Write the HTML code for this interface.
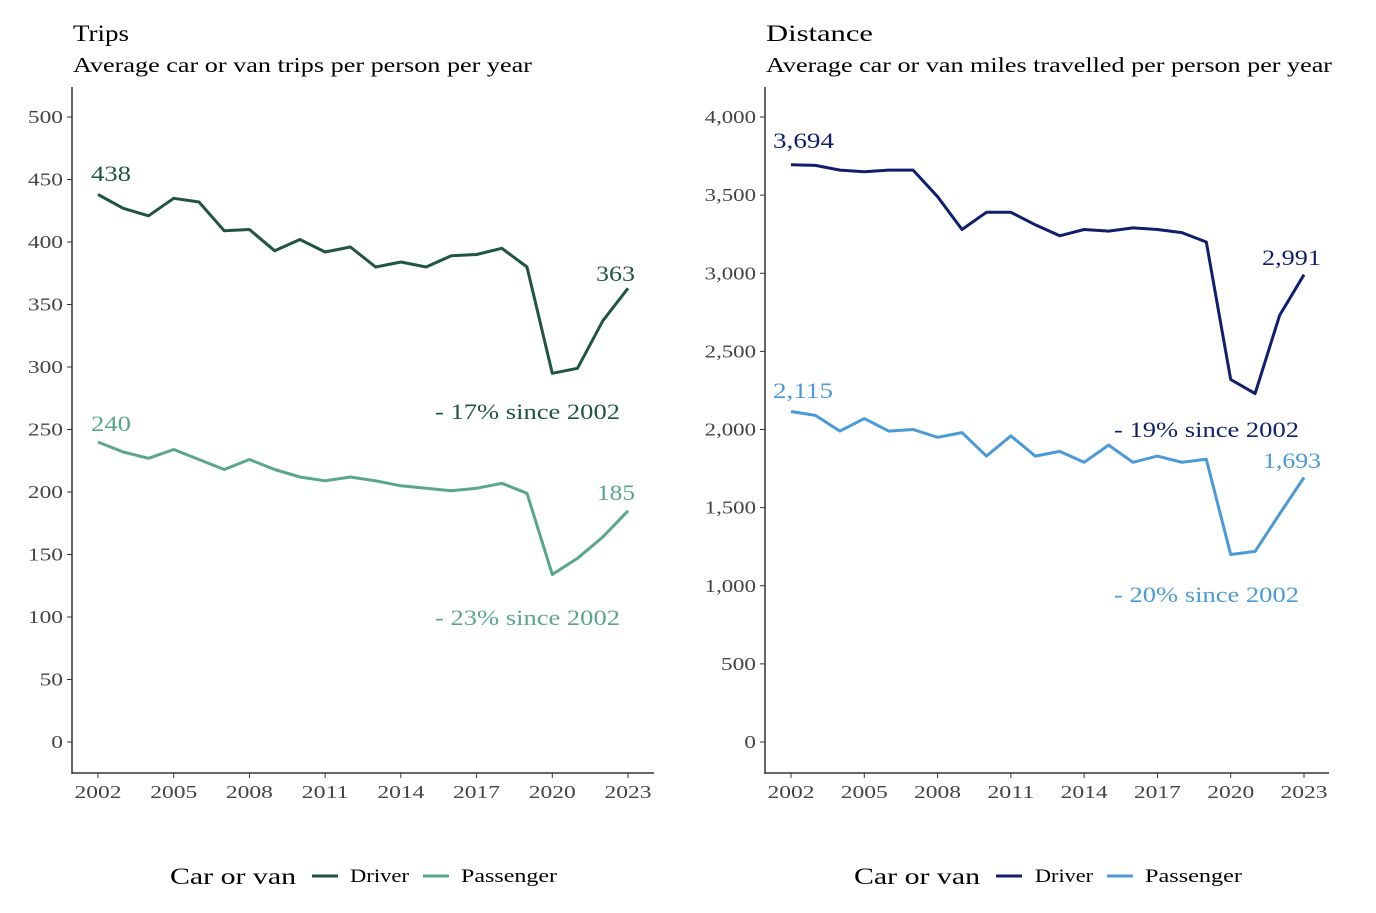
<!DOCTYPE html>
<html><head><meta charset="utf-8"><style>
body{margin:0;background:#fff;}
svg text{font-family:"Liberation Serif",serif;}
</style></head><body>
<svg id="s" width="1376" height="908" viewBox="0 0 1376 908" xmlns="http://www.w3.org/2000/svg">
<rect width="1376" height="908" fill="#fff"/>
<text x="73" y="41" font-size="23" fill="#000" textLength="56" lengthAdjust="spacingAndGlyphs">Trips</text>
<text x="73" y="72" font-size="21" fill="#000" textLength="459" lengthAdjust="spacingAndGlyphs">Average car or van trips per person per year</text>
<text x="766" y="41" font-size="23" fill="#000" textLength="107" lengthAdjust="spacingAndGlyphs">Distance</text>
<text x="766" y="72" font-size="21" fill="#000" textLength="566" lengthAdjust="spacingAndGlyphs">Average car or van miles travelled per person per year</text>
<g id="g"></g>
<text x="91" y="181" font-size="22" fill="#1f5541" textLength="40" lengthAdjust="spacingAndGlyphs">438</text>
<text x="596" y="281" font-size="22" fill="#1f5541" textLength="39" lengthAdjust="spacingAndGlyphs">363</text>
<text x="435" y="419" font-size="22" fill="#1f5541" textLength="185" lengthAdjust="spacingAndGlyphs">- 17% since 2002</text>
<text x="91" y="431" font-size="22" fill="#5aa68c" textLength="40" lengthAdjust="spacingAndGlyphs">240</text>
<text x="597" y="500" font-size="22" fill="#5aa68c" textLength="38" lengthAdjust="spacingAndGlyphs">185</text>
<text x="435" y="625" font-size="22" fill="#5aa68c" textLength="185" lengthAdjust="spacingAndGlyphs">- 23% since 2002</text>
<text x="773" y="148" font-size="22" fill="#101e6e" textLength="61" lengthAdjust="spacingAndGlyphs">3,694</text>
<text x="1262" y="265" font-size="22" fill="#101e6e" textLength="59" lengthAdjust="spacingAndGlyphs">2,991</text>
<text x="1114" y="437" font-size="22" fill="#101e6e" textLength="185" lengthAdjust="spacingAndGlyphs">- 19% since 2002</text>
<text x="773" y="398" font-size="22" fill="#4a9ad8" textLength="60" lengthAdjust="spacingAndGlyphs">2,115</text>
<text x="1263" y="468" font-size="22" fill="#4a9ad8" textLength="58" lengthAdjust="spacingAndGlyphs">1,693</text>
<text x="1114" y="602" font-size="22" fill="#4a9ad8" textLength="185" lengthAdjust="spacingAndGlyphs">- 20% since 2002</text>
<text x="170" y="884" font-size="23" fill="#000" textLength="126" lengthAdjust="spacingAndGlyphs">Car or van</text>
<line x1="312" y1="876" x2="338" y2="876" stroke="#1f5541" stroke-width="3"/>
<text x="350" y="882" font-size="19" fill="#000" textLength="59" lengthAdjust="spacingAndGlyphs">Driver</text>
<line x1="423" y1="876" x2="449" y2="876" stroke="#5aa68c" stroke-width="3"/>
<text x="461" y="882" font-size="19" fill="#000" textLength="96" lengthAdjust="spacingAndGlyphs">Passenger</text>
<text x="854" y="884" font-size="23" fill="#000" textLength="126" lengthAdjust="spacingAndGlyphs">Car or van</text>
<line x1="996" y1="876" x2="1022" y2="876" stroke="#101e6e" stroke-width="3"/>
<text x="1035" y="882" font-size="19" fill="#000" textLength="58" lengthAdjust="spacingAndGlyphs">Driver</text>
<line x1="1107" y1="876" x2="1133" y2="876" stroke="#4a9ad8" stroke-width="3"/>
<text x="1145" y="882" font-size="19" fill="#000" textLength="97" lengthAdjust="spacingAndGlyphs">Passenger</text>
</svg>
<script>
var g=document.getElementById('g'),NS="http://www.w3.org/2000/svg";
function el(t,a,txt){var e=document.createElementNS(NS,t);for(var k in a)e.setAttribute(k,a[k]);if(txt!=null)e.textContent=txt;g.appendChild(e);return e;}
function tl(s){var d=0,c=0;for(var i=0;i<s.length;i++){if(s[i]==',')c++;else d++;}return (d*11.7+c*4.5).toFixed(1);}
function chart(ax,x0,x1,step,max,fmt,series){
 var y0=742,sc=625/max;
 el('line',{x1:ax,y1:87,x2:ax,y2:774,stroke:'#333','stroke-width':1.5});
 el('line',{x1:ax,y1:773,x2:ax+(ax<400?582:564),y2:773,stroke:'#333','stroke-width':1.5});
 for(var v=0;v<=max;v+=step){var y=y0-v*sc;var s=String(fmt(v));
  el('line',{x1:ax-5,y1:y,x2:ax,y2:y,stroke:'#333'});
  el('text',{x:ax-9,y:y+6,'font-size':18,fill:'#444','text-anchor':'end',textLength:tl(s),lengthAdjust:'spacingAndGlyphs'},s);}
 var dx=(x1-x0)/21;
 for(var yr=2002;yr<=2023;yr+=3){var x=x0+(yr-2002)*dx;
  el('line',{x1:x,y1:773,x2:x,y2:778,stroke:'#333'});
  el('text',{x:x,y:798,'font-size':18,fill:'#444','text-anchor':'middle',textLength:47,lengthAdjust:'spacingAndGlyphs'},yr);}
 series.forEach(function(s){var p=s.d.map(function(v,i){return (x0+i*dx).toFixed(1)+','+(y0-v*sc).toFixed(1)}).join(' ');
  el('polyline',{points:p,fill:'none',stroke:s.c,'stroke-width':3,'stroke-linejoin':'round'});});
}
function c(v){return v.toLocaleString('en-US');}
chart(72,98,628,50,500,function(v){return v},[
 {c:'#1f5541',d:[438,427,421,435,432,409,410,393,402,392,396,380,384,380,389,390,395,380,295,299,337,363]},
 {c:'#5aa68c',d:[240,232,227,234,226,218,226,218,212,209,212,209,205,203,201,203,207,199,134,147,164,185]}]);
chart(765,791,1304,500,4000,c,[
 {c:'#101e6e',d:[3694,3690,3660,3650,3660,3660,3490,3280,3390,3390,3310,3240,3280,3270,3290,3280,3260,3200,2320,2230,2730,2991]},
 {c:'#4a9ad8',d:[2115,2090,1990,2070,1990,2000,1950,1980,1830,1960,1830,1860,1790,1900,1790,1830,1790,1810,1200,1220,1460,1693]}]);
</script>
</body></html>
